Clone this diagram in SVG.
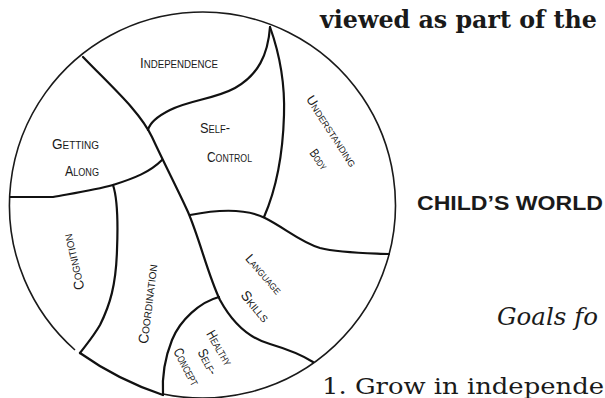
<svg xmlns="http://www.w3.org/2000/svg" width="605" height="398" viewBox="0 0 605 398">
<style>
.bg{fill:#fff}
.rim{fill:none;stroke:#1a1a1a;stroke-width:1.6}
.div{fill:none;stroke:#111;stroke-width:2.2;stroke-linecap:round;stroke-linejoin:round}
.lbl{font-family:"Liberation Sans",Arial,sans-serif;font-variant:small-caps;font-size:15px;fill:#1a1a1a;text-anchor:middle}
.sm{font-size:13px}
.md{font-size:14px}
.serif{font-family:"DejaVu Serif","Liberation Serif",serif;fill:#1a1a1a}
.head{font-family:"Liberation Sans",Arial,sans-serif;font-weight:bold;font-size:20px;fill:#1a1a1a}
</style>
<rect class="bg" x="0" y="0" width="605" height="398"/>
<g id="outline">
  <path class="rim" d="M75,350 A193,193 0 1 1 163,394"/>
  <path class="div" d="M80,353 Q118,380 163,395"/>
</g>
<g id="connectors">
  <path class="div" d="M83,57 C115,90 140,112 152,137 C165,165 178,190 188,212 C200,240 208,275 220,300 C232,322 248,338 270,344 C290,350 302,355 313,362"/>
  <path class="div" d="M270,27 C268,55 258,75 235,88 C215,99 190,100 170,110 C158,116 150,122 148,130"/>
  <path class="div" d="M270,27 C280,55 285,85 284,115 C283,150 278,185 264,217"/>
  <path class="div" d="M190,215 C215,210 245,208 265,218 C285,228 300,242 320,248 C340,253 365,253 389,254"/>
  <path class="div" d="M10,197 L53,197 C75,193 95,190 113,185 C135,178 150,172 162,160"/>
  <path class="div" d="M113,185 C118,200 118,225 117,250 C116,285 110,305 100,325 C93,337 86,345 80,353"/>
  <path class="div" d="M219,297 C200,302 180,320 172,340 C164,360 162,378 163,395"/>
</g>
<g id="independence"><text class="lbl" x="179" y="68" textLength="78" lengthAdjust="spacingAndGlyphs">Independence</text></g>
<g id="self-control">
  <text class="lbl" x="215" y="133" textLength="30" lengthAdjust="spacingAndGlyphs">Self-</text>
  <text class="lbl" x="229.5" y="162" textLength="45" lengthAdjust="spacingAndGlyphs">Control</text>
</g>
<g id="getting-along">
  <text class="lbl" x="75.5" y="149" textLength="47" lengthAdjust="spacingAndGlyphs">Getting</text>
  <text class="lbl" x="82" y="176" textLength="34" lengthAdjust="spacingAndGlyphs">Along</text>
</g>
<g id="understanding-body">
  <text class="lbl sm" transform="translate(328,133.5) rotate(57)" textLength="82" lengthAdjust="spacingAndGlyphs">Understanding</text>
  <text class="lbl sm" transform="translate(315.4,162) rotate(54)" textLength="22" lengthAdjust="spacingAndGlyphs">Body</text>
</g>
<g id="cognition"><text class="lbl md" transform="translate(78,261) rotate(-103)" textLength="57" lengthAdjust="spacingAndGlyphs">Cognition</text></g>
<g id="coordination"><text class="lbl md" transform="translate(152.5,304.5) rotate(-83)" textLength="80" lengthAdjust="spacingAndGlyphs">Coordination</text></g>
<g id="language-skills">
  <text class="lbl sm" transform="translate(260.6,277) rotate(49)" textLength="48" lengthAdjust="spacingAndGlyphs">Language</text>
  <text class="lbl md" transform="translate(251.6,309.4) rotate(50)" textLength="36" lengthAdjust="spacingAndGlyphs">Skills</text>
</g>
<g id="healthy-self-concept">
  <text class="lbl md" transform="translate(215.6,350.3) rotate(60)" textLength="38" lengthAdjust="spacingAndGlyphs">Healthy</text>
  <text class="lbl md" transform="translate(203.5,364) rotate(62)" textLength="27" lengthAdjust="spacingAndGlyphs">Self-</text>
  <text class="lbl md" transform="translate(182.5,369) rotate(62)" textLength="40" lengthAdjust="spacingAndGlyphs">Concept</text>
</g>
<g id="page-text">
  <text class="serif" x="320" y="28" font-size="24" font-weight="bold" textLength="277" lengthAdjust="spacingAndGlyphs">viewed as part of the</text>
  <text class="head" x="417" y="210" textLength="186" lengthAdjust="spacingAndGlyphs">CHILD’S WORLD</text>
  <text class="serif" x="497" y="325" font-size="25" font-style="italic" textLength="101" lengthAdjust="spacingAndGlyphs">Goals fo</text>
  <text class="serif" x="322" y="394" font-size="23" textLength="282" lengthAdjust="spacingAndGlyphs">1. Grow in independe</text>
</g>
</svg>
